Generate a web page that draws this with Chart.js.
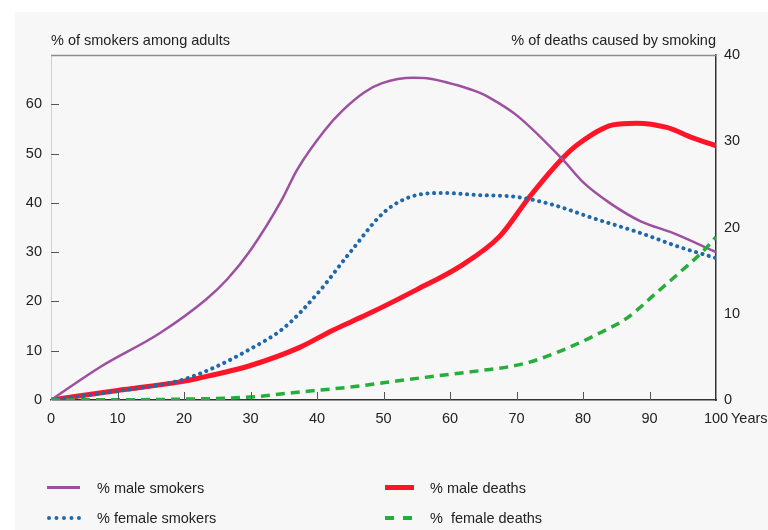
<!DOCTYPE html>
<html lang="en">
<head>
<meta charset="utf-8">
<title>Smokers and deaths</title>
<script src="https://cdn.jsdelivr.net/npm/chart.js@4.4.0/dist/chart.umd.min.js"></script>
<style>
  body { margin: 0; background: #fff; font-family: "Liberation Sans", Arial, sans-serif; }
  #wrap { position: relative; width: 768px; height: 530px; overflow: hidden; }
  #card { position: absolute; left: 15px; top: 12px; width: 753px; height: 518px; background: #f7f7f8; }
  canvas { position: absolute; left: 0; top: 0; }
  .leg { position: absolute; font-size: 14.5px; color: #222; line-height: 16px; }
  .sample { position: absolute; height: 0; }
</style>
</head>
<body>
<div id="wrap">
  <div id="card"></div>
  <canvas id="myChart" width="768" height="530"></canvas>

  <div class="sample" style="left:47px; top:486px; width:33px; border-top:3px solid #9d4fa0;"></div>
  <div class="leg" style="left:97px; top:480px;">% male smokers</div>
  <div class="sample" style="left:385px; top:485px; width:29px; border-top:5px solid #ff1428;"></div>
  <div class="leg" style="left:430px; top:480px;">% male deaths</div>
  <div class="sample" style="left:47px; top:516px; width:34px; border-top:4px dotted #1f69ab;"></div>
  <div class="leg" style="left:97px; top:510px;">% female smokers</div>
  <div class="sample" style="left:385px; top:516px; width:9px; border-top:4px solid #26ad3a;"></div>
  <div class="sample" style="left:403px; top:516px; width:9px; border-top:4px solid #26ad3a;"></div>
  <div class="leg" style="left:430px; top:510px; white-space:pre;">%  female deaths</div>
</div>

<script>
    // values (x = years)
    var maleSmokersX = [0, 7.4, 16.4, 23.4, 26.5, 30, 34.7, 37, 41.2, 43.9, 47.2, 49.8, 54.5, 56.5, 61, 64.5, 66, 70, 77, 80, 84, 88.6, 93.5, 100];
    var maleSmokersY = [0, 6.7, 13.6, 20.5, 24.5, 30.4, 40.6, 46.7, 54.8, 58.8, 62.5, 64.3, 65.4, 65.3, 63.9, 62.3, 61.3, 57.8, 48.7, 44.2, 40, 36.3, 33.9, 30];

    var femaleSmokersX = [0, 10, 18, 20, 24.4, 29.5, 35, 40, 45, 50, 54, 59, 64, 70, 75.5, 81.5, 88.6, 94.6, 100];
    var femaleSmokersY = [0, 1.8, 3.5, 4.2, 6.5, 10, 14.6, 21.5, 30, 38, 41.2, 42, 41.6, 41.2, 39.6, 36.9, 33.9, 31, 28.8];

    var maleDeathsX = [0, 10, 19.4, 22, 30, 37.4, 42.4, 47.5, 55, 61.5, 67.5, 72, 77, 79.5, 84.5, 88, 92.6, 96.5, 100];
    var maleDeathsY = [0, 1.1, 2.1, 2.5, 4, 6.1, 8.1, 9.9, 12.8, 15.5, 19, 23.6, 28.1, 29.8, 31.9, 32.1, 31.6, 30.4, 29.5];

    var femaleDeathsX = [0, 20, 30, 37, 45, 50, 57, 64.5, 70.5, 74, 78.5, 82.6, 86.6, 91, 95, 98, 100];
    var femaleDeathsY = [0, 0.1, 0.35, 0.9, 1.5, 2, 2.7, 3.4, 4.1, 4.9, 6.3, 7.8, 9.5, 12.4, 15.1, 17.2, 18.9];

    var xTicks = [0, 10, 20, 30, 40, 50, 60, 70, 80, 90, 100];
    var leftTicks = [0, 10, 20, 30, 40, 50, 60];
    var rightTicks = [0, 10, 20, 30, 40];

    function pts(xs, ys) {
        var out = [];
        for (var i = 0; i < xs.length; i++) out.push({x: xs[i], y: ys[i]});
        return out;
    }

    var FONT = {family: '"Liberation Sans", Arial, sans-serif', size: 14.5};

    var extras = {
        id: 'extras',
        afterDraw: function(chart) {
            var c = chart.ctx, a = chart.chartArea;
            var xs = chart.scales.x, ys = chart.scales.y;
            c.save();
            // top frame line
            c.strokeStyle = '#8c8c8c'; c.lineWidth = 1.5;
            c.beginPath(); c.moveTo(a.left, a.top + 0.5); c.lineTo(a.right, a.top + 0.5); c.stroke();
            // inner ticks
            c.strokeStyle = '#555'; c.lineWidth = 1;
            leftTicks.forEach(function(v) {
                if (v === 0) return;
                var py = Math.round(ys.getPixelForValue(v)) + 0.5;
                c.beginPath(); c.moveTo(a.left, py); c.lineTo(a.left + 8, py); c.stroke();
            });
            xTicks.forEach(function(v) {
                if (v === 0 || v === 100) return;
                var px = Math.round(xs.getPixelForValue(v)) + 0.5;
                c.beginPath(); c.moveTo(px, a.bottom); c.lineTo(px, a.bottom - 8); c.stroke();
            });
            // axis titles
            c.fillStyle = '#222';
            c.font = '14.5px "Liberation Sans", Arial, sans-serif';
            c.textBaseline = 'alphabetic';
            c.textAlign = 'left';
            c.fillText('% of smokers among adults', a.left, 45);
            c.textAlign = 'right';
            c.fillText('% of deaths caused by smoking', a.right, 45);
            c.textAlign = 'left';
            c.textBaseline = 'middle';
            c.fillText('Years', a.right + 15, xs.top + 19);
            c.restore();
        }
    };

    var ctx = document.getElementById('myChart');
    var chart = new Chart(ctx, {
        type: 'line',
        data: {
            datasets: [{
                label: '% male smokers',
                data: pts(maleSmokersX, maleSmokersY),
                borderColor: '#9d4fa0',
                borderWidth: 2.5,
                yAxisID: 'y',
                order: 2
            }, {
                label: '% female smokers',
                data: pts(femaleSmokersX, femaleSmokersY),
                borderColor: '#1f69ab',
                borderWidth: 4,
                borderDash: [0.1, 6.5],
                borderCapStyle: 'round',
                yAxisID: 'y',
                order: 3
            }, {
                label: '% male deaths',
                data: pts(maleDeathsX, maleDeathsY),
                borderColor: '#ff1428',
                borderWidth: 5,
                yAxisID: 'y1',
                order: 4
            }, {
                label: '% female deaths',
                data: pts(femaleDeathsX, femaleDeathsY),
                borderColor: '#26ad3a',
                borderWidth: 3.5,
                borderDash: [9, 6],
                yAxisID: 'y1',
                order: 1
            }]
        },
        options: {
            responsive: false,
            animation: false,
            devicePixelRatio: 1,
            layout: {padding: {top: 55, left: 0, right: 0, bottom: 0}},
            elements: {
                point: {radius: 0},
                line: {cubicInterpolationMode: 'monotone', fill: false}
            },
            plugins: {legend: {display: false}, tooltip: {enabled: false}},
            scales: {
                x: {
                    type: 'linear', min: 0, max: 100,
                    afterFit: function(s) { s.height = 130; },
                    afterBuildTicks: function(s) { s.ticks = xTicks.map(function(v) { return {value: v}; }); },
                    grid: {display: false, drawTicks: false},
                    border: {display: true, color: '#333', width: 1.5},
                    ticks: {color: '#222', font: FONT, padding: 10, maxRotation: 0}
                },
                y: {
                    position: 'left', min: 0, max: 70,
                    afterFit: function(s) { s.width = 51; },
                    afterBuildTicks: function(s) { s.ticks = leftTicks.map(function(v) { return {value: v}; }); },
                    grid: {display: false, drawTicks: false},
                    border: {display: true, color: '#cfcfcf', width: 1},
                    ticks: {color: '#222', font: FONT, padding: 9}
                },
                y1: {
                    position: 'right', min: 0, max: 40,
                    afterFit: function(s) { s.width = 52; },
                    afterBuildTicks: function(s) { s.ticks = rightTicks.map(function(v) { return {value: v}; }); },
                    grid: {display: false, drawTicks: false},
                    border: {display: true, color: '#333', width: 1.5},
                    ticks: {color: '#222', font: FONT, padding: 8}
                }
            }
        },
        plugins: [extras]
    });
</script>
</body>
</html>
